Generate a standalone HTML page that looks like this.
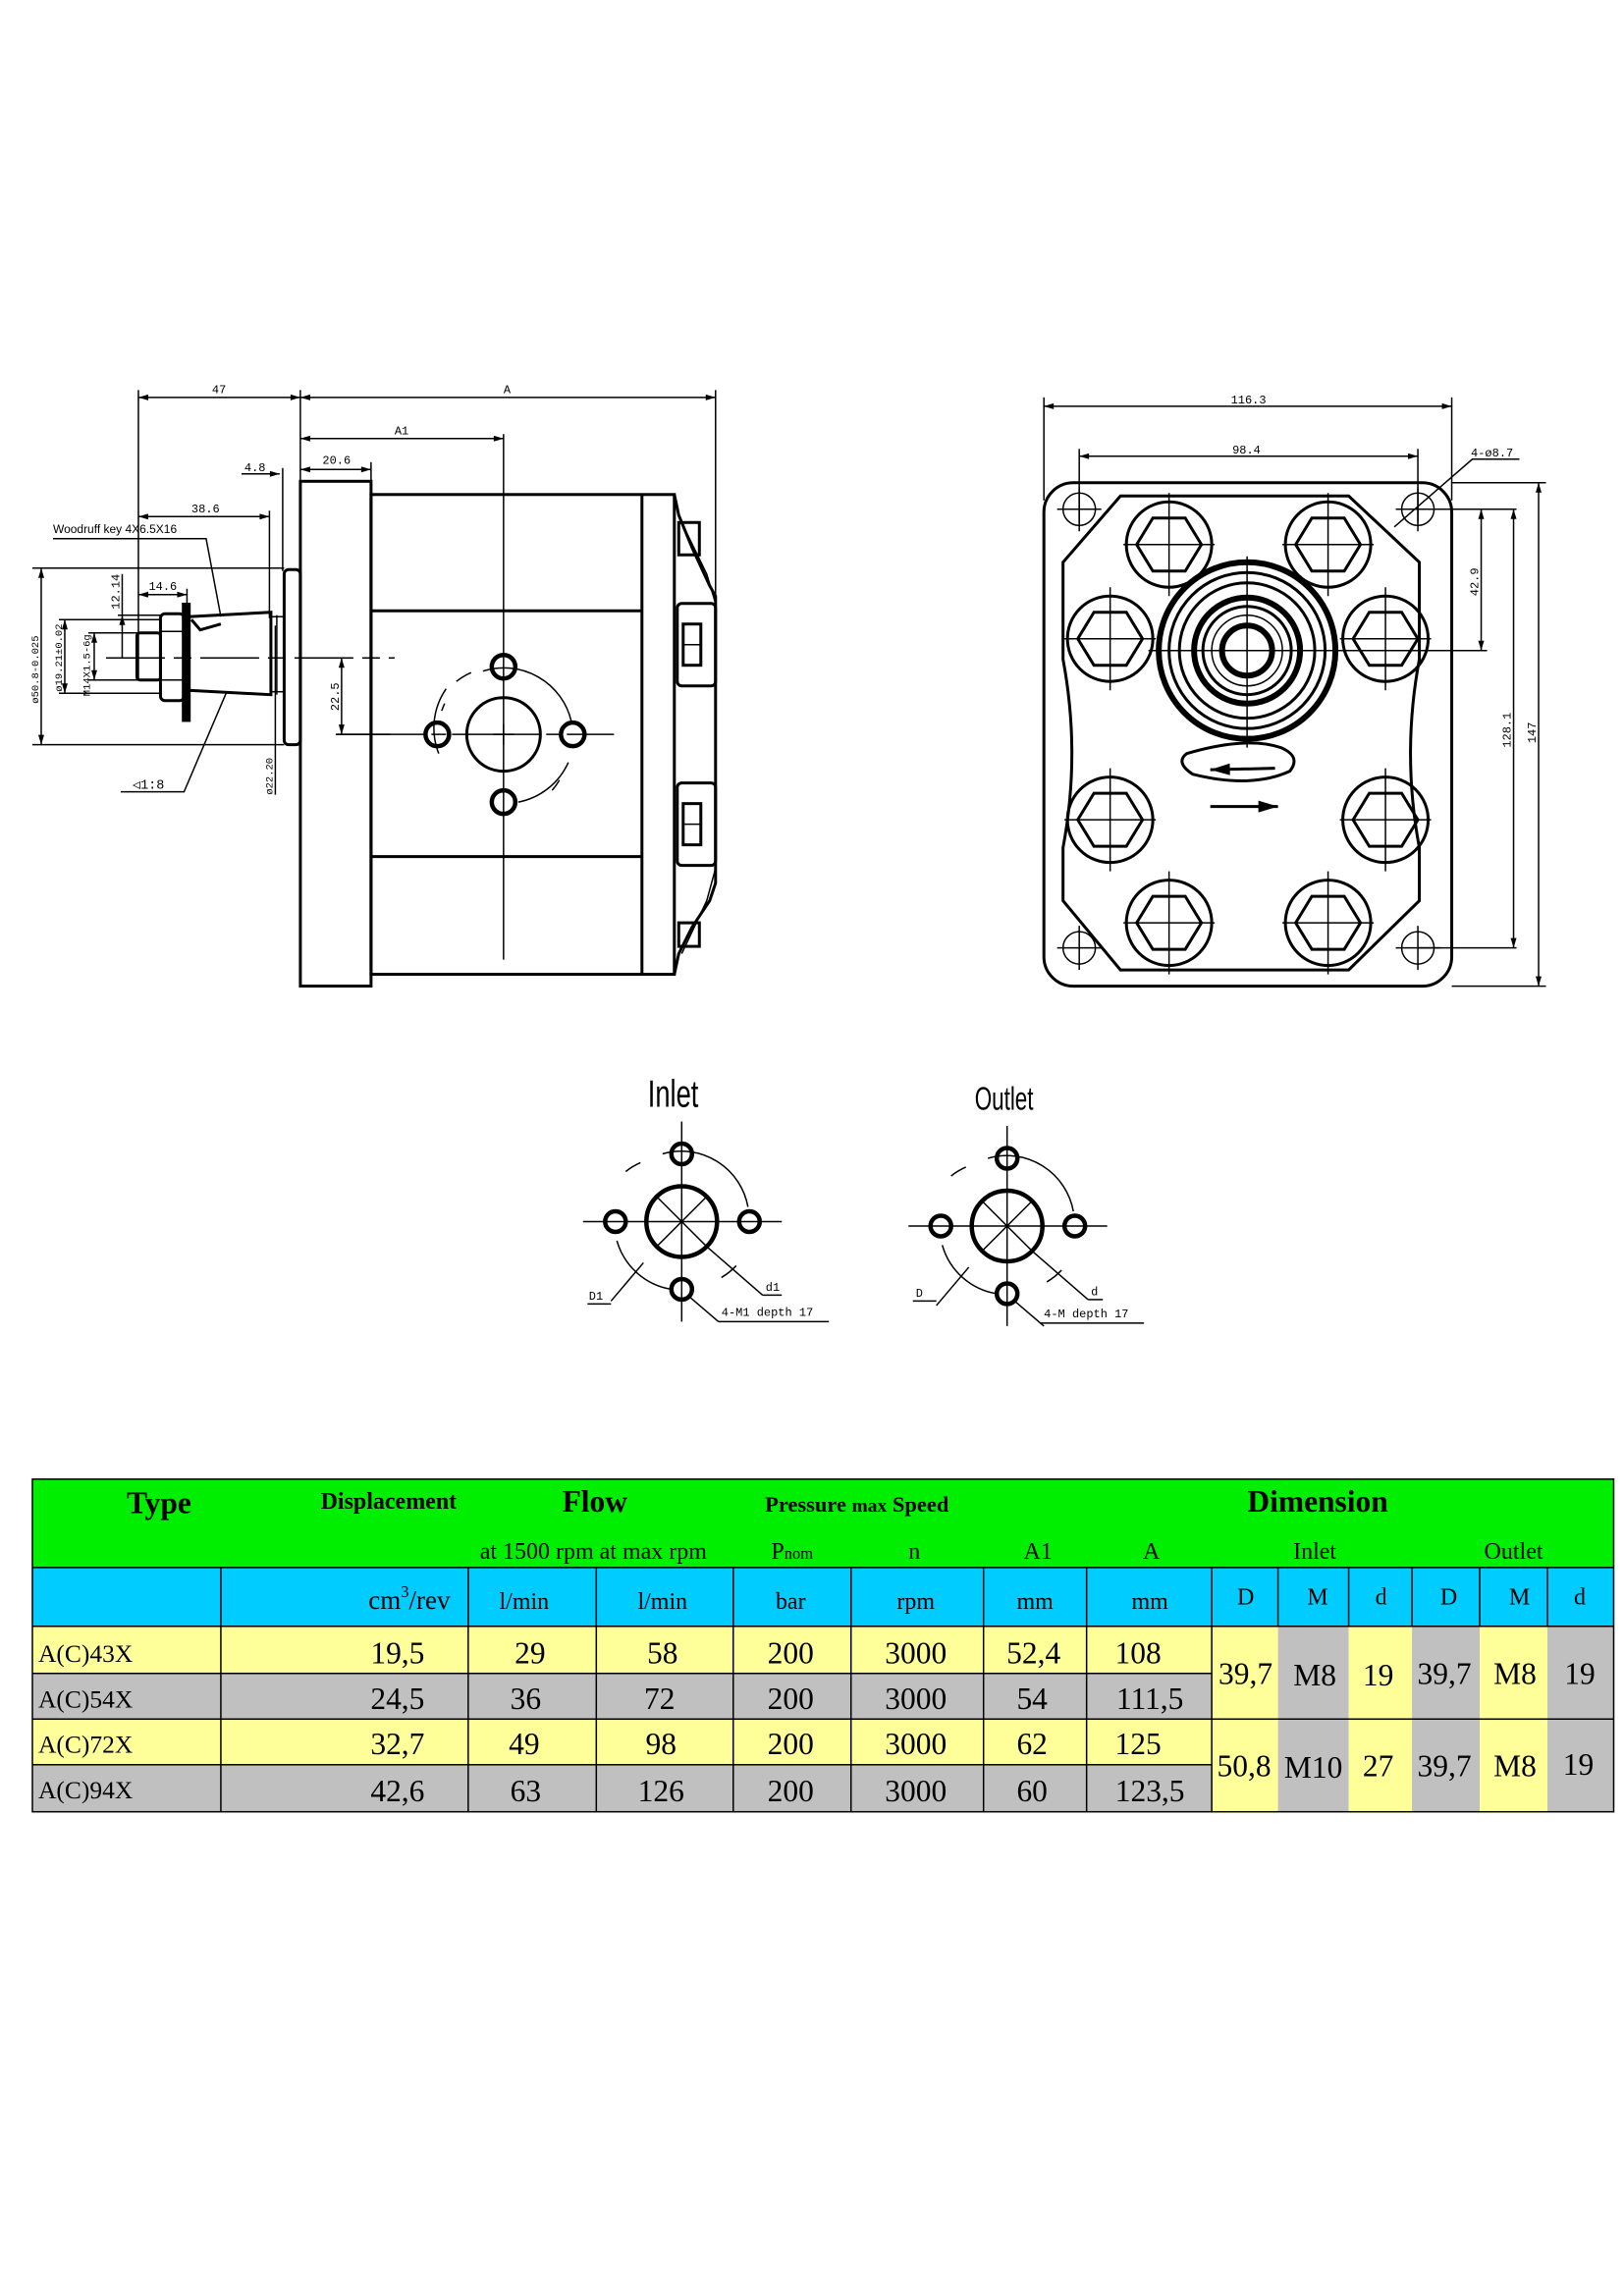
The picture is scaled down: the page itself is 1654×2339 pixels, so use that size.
<!DOCTYPE html>
<html><head><meta charset="utf-8"><style>
html,body{margin:0;padding:0;background:#fff}
svg{display:block}
.l{stroke:#000;fill:none;stroke-width:1}
.t{stroke:#000;fill:none;stroke-width:2}
.k{stroke:#000;fill:none;stroke-width:3}
.d{font-family:"Liberation Mono",monospace;font-size:8px;fill:#000}
.s{font-family:"Liberation Serif",serif;fill:#000}
</style></head><body>
<svg width="1654" height="2339" viewBox="0 0 1103 1560" preserveAspectRatio="none" xmlns="http://www.w3.org/2000/svg">
<defs>
<marker id="a" viewBox="0 0 10 6" refX="10" refY="3" markerWidth="7" markerHeight="4" orient="auto-start-reverse"><path d="M0,0L10,3L0,6z" fill="#000"/></marker>
</defs>
<rect width="1103" height="1560" fill="#fff"/>

<!-- ===== SIDE VIEW ===== -->
<g>
<line class="l" x1="94" y1="270" x2="204" y2="270" marker-start="url(#a)" marker-end="url(#a)"/>
<line class="l" x1="204" y1="270" x2="486" y2="270" marker-start="url(#a)" marker-end="url(#a)"/>
<line class="l" x1="94" y1="265" x2="94" y2="462"/>
<line class="l" x1="204" y1="265" x2="204" y2="327"/>
<line class="l" x1="486" y1="265" x2="486" y2="405"/>
<text class="d" x="144" y="267">47</text>
<text class="d" x="342" y="267">A</text>
<line class="l" x1="204" y1="298" x2="342" y2="298" marker-start="url(#a)" marker-end="url(#a)"/>
<text class="d" x="268" y="295">A1</text>
<line class="l" x1="342" y1="295" x2="342" y2="652"/>
<line class="l" x1="204" y1="319" x2="252" y2="319" marker-start="url(#a)" marker-end="url(#a)"/>
<line class="l" x1="252" y1="314" x2="252" y2="327"/>
<text class="d" x="219" y="315">20.6</text>
<line class="l" x1="164" y1="322" x2="190" y2="322" marker-end="url(#a)"/>
<line class="l" x1="192" y1="318" x2="192" y2="388"/>
<text class="d" x="166" y="320">4.8</text>
<line class="l" x1="94" y1="351" x2="183" y2="351" marker-start="url(#a)" marker-end="url(#a)"/>
<line class="l" x1="183" y1="347" x2="183" y2="420"/>
<text class="d" x="130" y="348">38.6</text>
<text class="d" x="36" y="362" style="font-family:'Liberation Sans',sans-serif">Woodruff key 4X6.5X16</text>
<polyline class="l" points="36,366 140,366 150,419"/>
<line class="l" x1="94" y1="404" x2="127" y2="404" marker-start="url(#a)" marker-end="url(#a)"/>
<line class="l" x1="127" y1="400" x2="127" y2="415"/>
<text class="d" x="101" y="401">14.6</text>
<line class="l" x1="83" y1="390" x2="83" y2="418"/>
<line class="l" x1="83" y1="418" x2="83" y2="447" marker-start="url(#a)"/>
<line class="l" x1="80" y1="418" x2="110" y2="418"/>
<text class="d" transform="translate(81,414) rotate(-90)">12.14</text>
<line class="l" x1="22" y1="386" x2="193" y2="386"/>
<line class="l" x1="22" y1="506" x2="193" y2="506"/>
<line class="l" x1="28" y1="386" x2="28" y2="506" marker-start="url(#a)" marker-end="url(#a)"/>
<text class="d" style="font-size:7px" transform="translate(26,478) rotate(-90)">ø50.8-0.025</text>
<line class="l" x1="40" y1="421" x2="109" y2="421"/>
<line class="l" x1="40" y1="471" x2="109" y2="471"/>
<line class="l" x1="44" y1="421" x2="44" y2="471" marker-start="url(#a)" marker-end="url(#a)"/>
<text class="d" style="font-size:7px" transform="translate(42,470) rotate(-90)">ø19.21±0.02</text>
<line class="l" x1="60" y1="430" x2="109" y2="430"/>
<line class="l" x1="60" y1="462" x2="109" y2="462"/>
<line class="l" x1="64" y1="430" x2="64" y2="462" marker-start="url(#a)" marker-end="url(#a)"/>
<text class="d" style="font-size:7px" transform="translate(61,473) rotate(-90)">M14X1.5-6g</text>
<text class="d" x="90" y="536" style="font-size:9px">◁1:8</text>
<polyline class="l" points="82,538 125,538 154,470"/>
<line class="l" x1="187" y1="425" x2="187" y2="540"/>
<text class="d" style="font-size:7px" transform="translate(185,540) rotate(-90)">ø22.20</text>
<line class="l" x1="232" y1="447" x2="232" y2="499" marker-start="url(#a)" marker-end="url(#a)"/>
<line class="l" x1="228" y1="499" x2="265" y2="499"/>
<text class="d" transform="translate(230,483) rotate(-90)">22.5</text>
<rect class="t" x="204" y="327" width="48" height="343"/>
<rect class="t" x="252" y="336" width="206" height="326"/>
<line class="t" x1="436" y1="336" x2="436" y2="662"/>
<line class="t" x1="252" y1="415" x2="436" y2="415"/>
<line class="t" x1="252" y1="582" x2="436" y2="582"/>
<path class="t" d="M458,336 L461,350 L470,372 L482,398 L486,405 L486,600 L482,612 L470,630 L461,648 L458,662"/>
<path class="l" d="M463,355 L480,390 L486,410 M463,648 L480,612 L486,590"/>
<rect class="t" x="461" y="355" width="14" height="22"/>
<rect class="t" x="460" y="410" width="26" height="56" rx="3"/>
<rect class="t" x="464" y="424" width="12" height="28"/>
<line class="l" x1="464" y1="438" x2="476" y2="438"/>
<rect class="t" x="460" y="532" width="26" height="56" rx="3"/>
<rect class="t" x="464" y="546" width="12" height="28"/>
<line class="l" x1="464" y1="560" x2="476" y2="560"/>
<rect class="t" x="461" y="627" width="14" height="16"/>
<rect class="t" x="193" y="387" width="11" height="119" rx="3"/>
<path class="t" d="M128,419 L184,416 L184,472 L128,469"/>
<line class="l" x1="188" y1="418" x2="188" y2="472"/>
<line class="l" x1="184" y1="419" x2="193" y2="419"/>
<line class="l" x1="184" y1="470" x2="193" y2="470"/>
<path class="t" d="M130,421 L136,428 L150,424"/>
<rect class="k" x="125" y="411" width="3" height="78" fill="#000"/>
<rect class="t" x="109" y="417" width="16" height="59" rx="3"/>
<line class="l" x1="109" y1="429" x2="125" y2="429"/>
<line class="l" x1="109" y1="462" x2="125" y2="462"/>
<rect class="t" x="93" y="430" width="16" height="32" rx="2"/>
<line class="l" x1="72" y1="447" x2="268" y2="447" stroke-dasharray="40,6,12,6"/>
<line class="l" x1="229" y1="499" x2="417" y2="499" stroke-dasharray="60,4,10,4"/>
<ellipse class="t" cx="342" cy="499" rx="25" ry="25"/>
<path class="l" d="M335,499h14M342,492v14"/>
<path class="l" d="M328,456 A47,47 0 0 1 388,490 M386,518 A47,47 0 0 1 352,545 M298,512 A47,47 0 0 1 303,468" />
<path class="l" d="M310,463 A47,47 0 0 1 320,457 M380,530 A47,47 0 0 1 375,537 M300,483 A47,47 0 0 1 302,478"/>
<circle class="k" cx="342" cy="453" r="8"/>
<circle class="k" cx="342" cy="545" r="8"/>
<circle class="k" cx="297" cy="499" r="8"/>
<circle class="k" cx="389" cy="499" r="8"/>
</g>

<!-- ===== FRONT VIEW ===== -->
<g>
<line class="l" x1="709" y1="276" x2="986" y2="276" marker-start="url(#a)" marker-end="url(#a)"/>
<line class="l" x1="709" y1="270" x2="709" y2="340"/>
<line class="l" x1="986" y1="270" x2="986" y2="340"/>
<text class="d" x="836" y="274">116.3</text>
<line class="l" x1="733" y1="310" x2="963" y2="310" marker-start="url(#a)" marker-end="url(#a)"/>
<line class="l" x1="733" y1="305" x2="733" y2="355"/>
<line class="l" x1="963" y1="305" x2="963" y2="355"/>
<text class="d" x="837" y="308">98.4</text>
<text class="d" x="999" y="310">4-ø8.7</text>
<polyline class="l" points="1032,312 1000,312 947,358"/>
<line class="l" x1="986" y1="328" x2="1050" y2="328"/>
<line class="l" x1="986" y1="670" x2="1050" y2="670"/>
<line class="l" x1="963" y1="346" x2="1030" y2="346"/>
<line class="l" x1="963" y1="644" x2="1030" y2="644"/>
<line class="l" x1="900" y1="442" x2="1010" y2="442"/>
<line class="l" x1="1006" y1="346" x2="1006" y2="442" marker-start="url(#a)" marker-end="url(#a)"/>
<text class="d" transform="translate(1004,405) rotate(-90)">42.9</text>
<line class="l" x1="1028" y1="346" x2="1028" y2="644" marker-start="url(#a)" marker-end="url(#a)"/>
<text class="d" transform="translate(1026,508) rotate(-90)">128.1</text>
<line class="l" x1="1045" y1="328" x2="1045" y2="670" marker-start="url(#a)" marker-end="url(#a)"/>
<text class="d" transform="translate(1043,505) rotate(-90)">147</text>
<rect class="t" x="709" y="328" width="277" height="342" rx="20"/>
<path class="t" d="M761,337 L916,337 L964,382 L964,448 Q952,512 964,576 L964,612 L916,659 L761,659 L722,612 L722,576 Q734,512 722,448 L722,382 Z"/>
<g id="ch">
<circle class="l" cx="733" cy="346" r="11"/><path class="l" d="M718,346h30M733,331v30"/>
</g>
<use href="#ch" x="230"/><use href="#ch" y="298"/><use href="#ch" x="230" y="298"/>
<g id="bo">
<circle class="t" cx="794" cy="370" r="29"/>
<path class="t" d="M772,370 L783,352 L805,352 L816,370 L805,388 L783,388 Z"/>
<path class="l" d="M763,370h62M794,335v70"/>
</g>
<use href="#bo" x="108"/>
<use href="#bo" x="-40" y="64"/><use href="#bo" x="147" y="64"/>
<use href="#bo" x="-40" y="187"/><use href="#bo" x="147" y="187"/>
<use href="#bo" y="257"/><use href="#bo" x="108" y="257"/>
<circle cx="847" cy="442" r="60" fill="none" stroke="#000" stroke-width="4"/>
<circle class="t" cx="847" cy="442" r="53"/>
<circle class="t" cx="847" cy="442" r="46"/>
<circle cx="847" cy="442" r="36" fill="none" stroke="#000" stroke-width="4"/>
<circle class="t" cx="847" cy="442" r="30"/>
<circle class="l" cx="847" cy="442" r="24"/>
<circle cx="847" cy="442" r="17" fill="none" stroke="#000" stroke-width="4"/>
<path class="l" d="M780,442h134M847,378v130M840,442h14M847,435v14"/>
<path class="t" d="M806,512 Q847,500 870,508 Q884,514 876,524 Q850,536 810,526 Q798,518 806,512 Z"/>
<path class="t" d="M822,523 L866,522" marker-start="url(#a)"/>
<path class="t" d="M822,548 L868,548" marker-end="url(#a)"/>
</g>

<!-- ===== INLET / OUTLET ===== -->
<text x="440" y="752" style="font-family:'Liberation Sans',sans-serif;font-size:26px" transform="translate(440,752) scale(0.7,1) translate(-440,-752)">Inlet</text>
<text x="662" y="754" style="font-family:'Liberation Sans',sans-serif;font-size:22px" transform="translate(662,754) scale(0.68,1) translate(-662,-754)">Outlet</text>
<g id="pt">
<path class="l" d="M396,830h135M463,762v136M446,813l34,34M480,813l-34,34"/>
<circle class="k" cx="463" cy="830" r="24"/>
<path class="l" d="M450,784 A46,46 0 0 1 508,820 M419,843 A46,46 0 0 0 456,876 M425,796 A46,46 0 0 1 435,790 M500,860 A46,46 0 0 1 490,868"/>
<circle class="k" cx="463" cy="784" r="7"/>
<circle class="k" cx="463" cy="876" r="7"/>
<circle class="k" cx="418" cy="830" r="7"/>
<circle class="k" cx="509" cy="830" r="7"/>
<line class="l" x1="437" y1="858" x2="415" y2="884"/>
<line class="l" x1="480" y1="847" x2="518" y2="880"/>
<line class="l" x1="467" y1="880" x2="488" y2="898"/>
</g>
<use href="#pt" x="221" y="3"/>
<text class="d" x="400" y="883">D1</text>
<line class="l" x1="399" y1="886" x2="415" y2="886"/>
<text class="d" x="520" y="877">d1</text>
<line class="l" x1="518" y1="880" x2="531" y2="880"/>
<text class="d" x="490" y="894">4-M1 depth 17</text>
<line class="l" x1="488" y1="898" x2="563" y2="898"/>
<text class="d" x="622" y="881">D</text>
<line class="l" x1="620" y1="884" x2="636" y2="884"/>
<text class="d" x="741" y="880">d</text>
<line class="l" x1="739" y1="883" x2="749" y2="883"/>
<text class="d" x="709" y="895">4-M depth 17</text>
<line class="l" x1="707" y1="899" x2="777" y2="899"/>

<!-- ===== TABLE ===== -->
<g>
<rect x="22" y="1005" width="1074" height="60" fill="#00ee00"/>
<rect x="22" y="1065" width="1074" height="40" fill="#00ccff"/>
<rect x="22" y="1105" width="801" height="32" fill="#ffff99"/>
<rect x="22" y="1137" width="801" height="31" fill="#c0c0c0"/>
<rect x="22" y="1168" width="801" height="31" fill="#ffff99"/>
<rect x="22" y="1199" width="801" height="32" fill="#c0c0c0"/>
<rect x="823" y="1105" width="45" height="126" fill="#ffff99"/>
<rect x="868" y="1105" width="48" height="126" fill="#c0c0c0"/>
<rect x="916" y="1105" width="43" height="126" fill="#ffff99"/>
<rect x="959" y="1105" width="46" height="126" fill="#c0c0c0"/>
<rect x="1005" y="1105" width="46" height="126" fill="#ffff99"/>
<rect x="1051" y="1105" width="45" height="126" fill="#c0c0c0"/>
<g stroke="#000" stroke-width="1">
<rect x="22" y="1005" width="1074" height="226" fill="none"/>
<line x1="22" y1="1065" x2="1096" y2="1065"/>
<line x1="22" y1="1105" x2="1096" y2="1105"/>
<line x1="22" y1="1137" x2="823" y2="1137"/>
<line x1="22" y1="1168" x2="1096" y2="1168"/>
<line x1="22" y1="1199" x2="823" y2="1199"/>
<line x1="150" y1="1065" x2="150" y2="1231"/>
<line x1="318" y1="1065" x2="318" y2="1231"/>
<line x1="405" y1="1065" x2="405" y2="1231"/>
<line x1="498" y1="1065" x2="498" y2="1231"/>
<line x1="578" y1="1065" x2="578" y2="1231"/>
<line x1="668" y1="1065" x2="668" y2="1231"/>
<line x1="738" y1="1065" x2="738" y2="1231"/>
<line x1="823" y1="1065" x2="823" y2="1231"/>
<line x1="868" y1="1065" x2="868" y2="1105"/>
<line x1="916" y1="1065" x2="916" y2="1105"/>
<line x1="959" y1="1065" x2="959" y2="1105"/>
<line x1="1005" y1="1065" x2="1005" y2="1105"/>
<line x1="1051" y1="1065" x2="1051" y2="1105"/>
</g>
<g class="s" text-anchor="middle" font-weight="bold">
<text x="108" y="1028" font-size="21">Type</text>
<text x="264" y="1025" font-size="16">Displacement</text>
<text x="404" y="1027" font-size="21">Flow</text>
<text x="582" y="1027" font-size="15">Pressure <tspan font-size="13">max</tspan> Speed</text>
<text x="895" y="1027" font-size="21">Dimension</text>
</g>
<g class="s" text-anchor="middle" font-size="16">
<text x="403" y="1059">at 1500 rpm at max rpm</text>
<text x="538" y="1059">P<tspan font-size="11">nom</tspan></text>
<text x="621" y="1059">n</text>
<text x="705" y="1059">A1</text>
<text x="782" y="1059">A</text>
<text x="893" y="1059">Inlet</text>
<text x="1028" y="1059">Outlet</text>
<text x="278" y="1093" font-size="18">cm<tspan font-size="11" dy="-8">3</tspan><tspan dy="8">/rev</tspan></text>
<text x="356" y="1093">l/min</text>
<text x="450" y="1093">l/min</text>
<text x="537" y="1093">bar</text>
<text x="622" y="1093">rpm</text>
<text x="703" y="1093">mm</text>
<text x="781" y="1093">mm</text>
<text x="846" y="1090">D</text><text x="895" y="1090">M</text><text x="938" y="1090">d</text>
<text x="984" y="1090">D</text><text x="1032" y="1090">M</text><text x="1073" y="1090">d</text>
</g>
<g class="s" font-size="17">
<text x="26" y="1129">A(C)43X</text>
<text x="26" y="1160">A(C)54X</text>
<text x="26" y="1191">A(C)72X</text>
<text x="26" y="1222">A(C)94X</text>
</g>
<g class="s" text-anchor="middle" font-size="21">
<text x="270" y="1130">19,5</text><text x="360" y="1130">29</text><text x="450" y="1130">58</text><text x="537" y="1130">200</text><text x="622" y="1130">3000</text><text x="702" y="1130">52,4</text><text x="773" y="1130">108</text>
<text x="270" y="1161">24,5</text><text x="357" y="1161">36</text><text x="448" y="1161">72</text><text x="537" y="1161">200</text><text x="622" y="1161">3000</text><text x="701" y="1161">54</text><text x="781" y="1161">111,5</text>
<text x="270" y="1192">32,7</text><text x="356" y="1192">49</text><text x="449" y="1192">98</text><text x="537" y="1192">200</text><text x="622" y="1192">3000</text><text x="701" y="1192">62</text><text x="773" y="1192">125</text>
<text x="270" y="1224">42,6</text><text x="357" y="1224">63</text><text x="449" y="1224">126</text><text x="537" y="1224">200</text><text x="622" y="1224">3000</text><text x="701" y="1224">60</text><text x="781" y="1224">123,5</text>
<text x="846" y="1144">39,7</text><text x="893" y="1145">M8</text><text x="936" y="1145">19</text><text x="981" y="1144">39,7</text><text x="1029" y="1144">M8</text><text x="1073" y="1144">19</text>
<text x="845" y="1207">50,8</text><text x="892" y="1208">M10</text><text x="936" y="1207">27</text><text x="981" y="1207">39,7</text><text x="1029" y="1207">M8</text><text x="1072" y="1206">19</text>
</g>
</g>
</svg>
</body></html>
